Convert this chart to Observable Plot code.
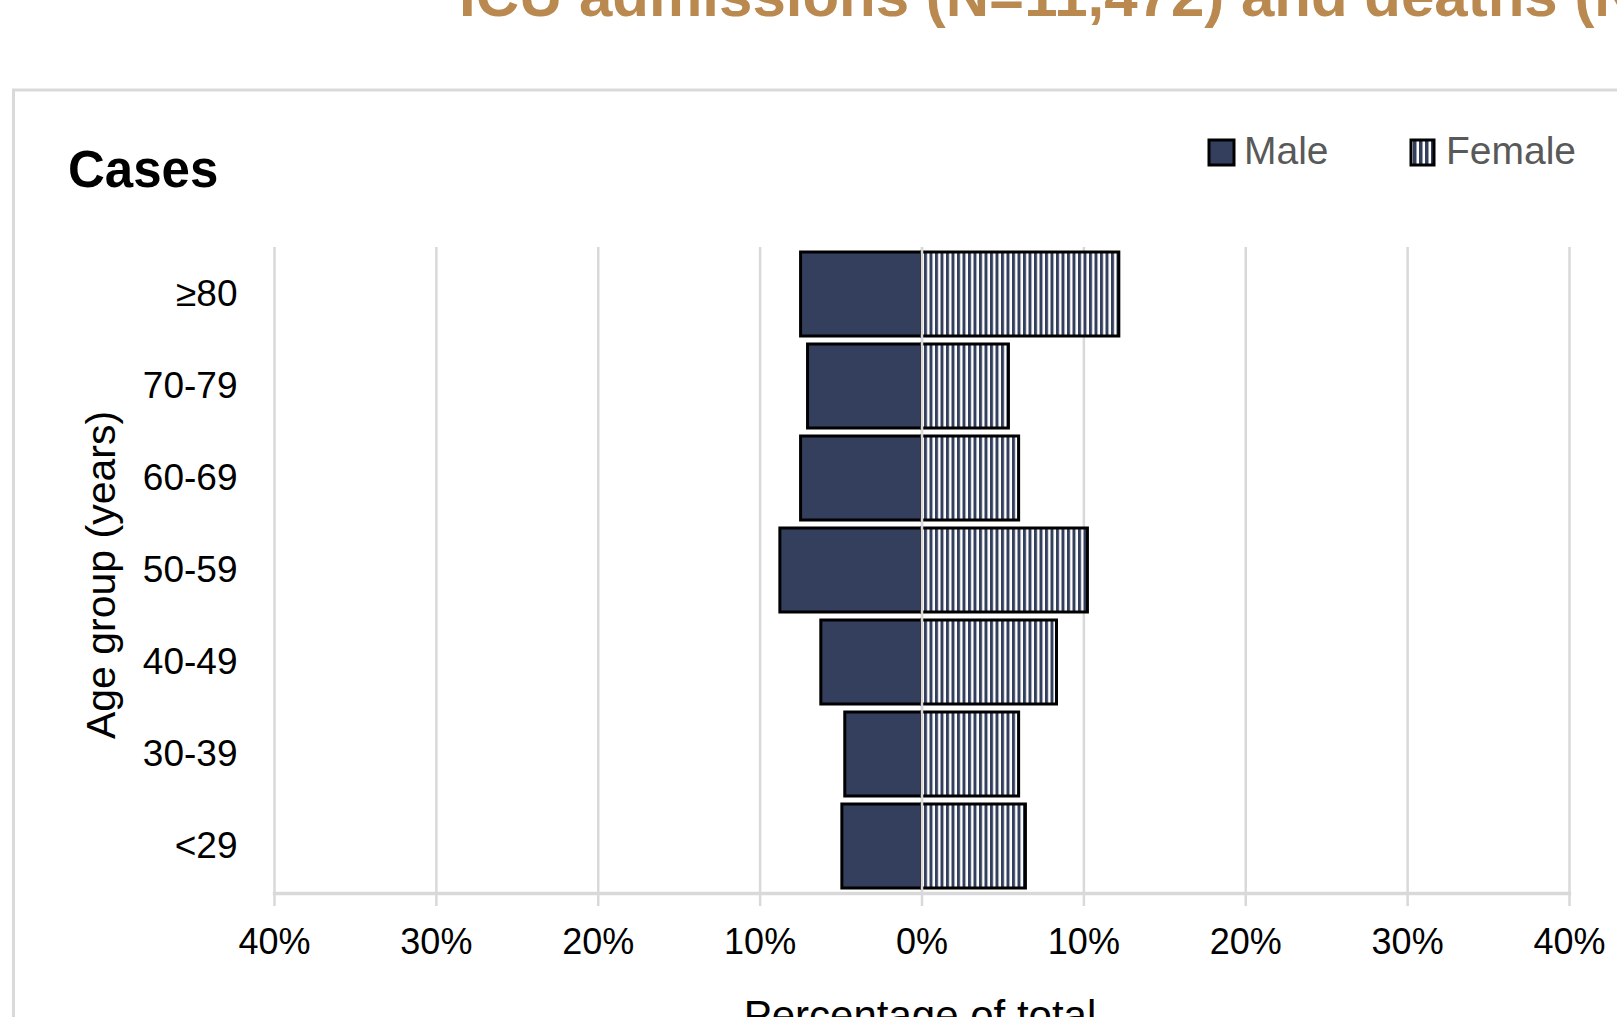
<!DOCTYPE html>
<html>
<head>
<meta charset="utf-8">
<script src="https://cdn.jsdelivr.net/npm/d3@7"></script>
<script src="https://cdn.jsdelivr.net/npm/@observablehq/plot@0.6"></script>
<style>
  html, body { margin: 0; padding: 0; background: #fff; overflow: hidden; }
  #wrap { position: relative; width: 1617px; height: 1017px; overflow: hidden; }
  #wrap > svg { position: absolute; left: 0; top: 0; }
  #overlay { pointer-events: none; }
</style>
</head>
<body>
<div id="wrap"></div>
<script>
// ---- data ----
const ageGroups = ["≥80", "70-79", "60-69", "50-59", "40-49", "30-39", "<29"];
const maleValues = [7.47, 7.04, 7.47, 8.75, 6.22, 4.74, 4.92];     // % of total
const femaleValues = [12.19, 5.37, 6.0, 10.25, 8.34, 6.0, 6.42];   // % of total
const xTicks = [-40, -30, -20, -10, 0, 10, 20, 30, 40];
const xTickLabels = ["40%", "30%", "20%", "10%", "0%", "10%", "20%", "30%", "40%"];
const seriesNames = ["Male", "Female"];
const titleText = "ICU admissions (N=11,472) and deaths (N";
const panelTitle = "Cases";
const yLabel = "Age group (years)";
const xLabel = "Percentage of total";

// ---- styles ----
const NAVY = "#333f5c";
const GRID = "#d9d9d9";
const FONT = "Liberation Sans, Arial, sans-serif";

function stripeDefs() {
  return () => {
    const defs = d3.create("svg:defs");
    const p = defs.append("pattern").attr("id", "femaleStripes")
      .attr("patternUnits", "userSpaceOnUse").attr("width", 5.5).attr("height", 10);
    p.append("rect").attr("width", 5.5).attr("height", 10).attr("fill", "#fff");
    p.append("rect").attr("width", 3).attr("height", 10).attr("fill", NAVY);
    return defs.node();
  };
}

const chart = Plot.plot({
  width: 1617,
  height: 1017,
  marginLeft: 274,
  marginRight: 48,
  marginTop: 247,
  marginBottom: 124,
  style: { fontFamily: FONT, background: "transparent", overflow: "visible" },
  x: { domain: [-40, 40] },
  y: { domain: ageGroups, paddingInner: 0.085, paddingOuter: 0.0425 },
  marks: [
    stripeDefs(),
    Plot.ruleX(xTicks, { stroke: GRID, strokeWidth: 2.5 }),
    Plot.axisX({
      ticks: xTicks,
      tickFormat: (d) => xTickLabels[xTicks.indexOf(d)],
      tickSize: 13, tickPadding: 22,
      stroke: GRID, strokeWidth: 2.5, strokeOpacity: 1,
      fill: "#000", fontSize: 36, label: null
    }),
    Plot.axisY({ tickSize: 0, tickPadding: 37, fontSize: 37, fill: "#000", label: null }),
    Plot.frame({ anchor: "bottom", stroke: GRID, strokeWidth: 3.5, strokeOpacity: 1 }),
    Plot.barX(ageGroups, {
      y: (d) => d, x1: 0, x2: (d, i) => -maleValues[i],
      fill: NAVY, stroke: "#000", strokeWidth: 3
    }),
    Plot.barX(ageGroups, {
      y: (d) => d, x1: 0, x2: (d, i) => femaleValues[i],
      fill: "url(#femaleStripes)", stroke: "#000", strokeWidth: 3
    }),
    Plot.ruleX([0], { stroke: GRID, strokeWidth: 2.5 })
  ]
});
document.getElementById("wrap").appendChild(chart);

// ---- titles, legend, axis titles ----
const ov = d3.select("#wrap").append("svg").attr("id", "overlay")
  .attr("width", 1617).attr("height", 1017).attr("font-family", FONT);

const defs = ov.append("defs");
const lp = defs.append("pattern").attr("id", "legendStripes")
  .attr("patternUnits", "userSpaceOnUse").attr("width", 6).attr("height", 10)
  .attr("x", 1413);
lp.append("rect").attr("width", 6).attr("height", 10).attr("fill", "#fff");
lp.append("rect").attr("width", 3.5).attr("height", 10).attr("fill", NAVY);

ov.append("rect").attr("x", 13.5).attr("y", 90).attr("width", 1700).attr("height", 1000)
  .attr("fill", "none").attr("stroke", GRID).attr("stroke-width", 3);

ov.append("text").attr("x", 459).attr("y", 16).attr("font-size", 60).attr("font-weight", "bold")
  .attr("fill", "#b9894f").attr("style", "white-space:pre").text(titleText);

ov.append("text").attr("x", 68).attr("y", 187).attr("font-size", 51).attr("font-weight", "bold")
  .attr("fill", "#000").text(panelTitle);

const legendItems = [
  { name: seriesNames[0], fill: NAVY, sx: 1209, sw: 25, tx: 1244 },
  { name: seriesNames[1], fill: "url(#legendStripes)", sx: 1411, sw: 23, tx: 1446 }
];
legendItems.forEach((it) => {
  ov.append("rect").attr("x", it.sx).attr("y", 140).attr("width", it.sw).attr("height", 25)
    .attr("fill", it.fill).attr("stroke", "#000").attr("stroke-width", 3);
  ov.append("text").attr("x", it.tx).attr("y", 164).attr("font-size", 39)
    .attr("fill", "#595959").text(it.name);
});

ov.append("text").attr("transform", "translate(115,575) rotate(-90)")
  .attr("text-anchor", "middle").attr("font-size", 41).attr("fill", "#000").text(yLabel);

ov.append("text").attr("x", 920).attr("y", 1030).attr("text-anchor", "middle")
  .attr("font-size", 42).attr("fill", "#000").text(xLabel);
</script>
</body>
</html>
